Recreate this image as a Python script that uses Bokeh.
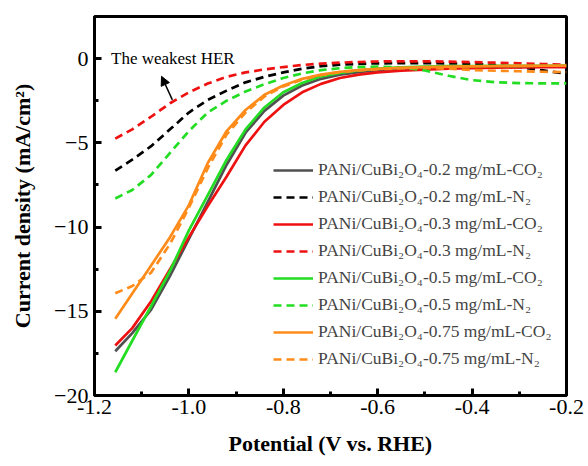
from bokeh.plotting import figure
from bokeh.models import (FixedTicker, PrintfTickFormatter, Legend, LegendItem,
                          Arrow, NormalHead, Label, Range1d)
from bokeh.embed import file_html
from bokeh.resources import INLINE

# ---- data ----
potential = [-1.156, -1.12, -1.08, -1.04, -1.00, -0.96, -0.92, -0.88, -0.84, -0.80,
             -0.76, -0.72, -0.68, -0.64, -0.60, -0.55, -0.50, -0.45, -0.40, -0.35,
             -0.30, -0.25, -0.20]

co2_02 = [-17.37, -16.3, -14.9, -12.9, -10.7, -8.5, -6.3, -4.4, -3.1, -2.2,
          -1.6, -1.2, -0.95, -0.8, -0.68, -0.6, -0.55, -0.5, -0.48, -0.47,
          -0.46, -0.455, -0.45]
n2_02 = [-6.65, -6.0, -5.2, -4.2, -3.2, -2.45, -1.9, -1.41, -1.08, -0.82,
         -0.6, -0.45, -0.36, -0.31, -0.28, -0.27, -0.27, -0.28, -0.31, -0.38,
         -0.5, -0.7, -0.9]
co2_03 = [-17.03, -16.0, -14.4, -12.5, -10.6, -8.75, -7.0, -5.15, -3.75, -2.75,
          -2.0, -1.5, -1.15, -0.95, -0.82, -0.72, -0.66, -0.6, -0.56, -0.54,
          -0.52, -0.51, -0.5]
n2_03 = [-4.75, -4.2, -3.45, -2.65, -2.0, -1.48, -1.08, -0.82, -0.64, -0.5,
         -0.38, -0.3, -0.24, -0.2, -0.17, -0.16, -0.16, -0.18, -0.21, -0.24,
         -0.28, -0.32, -0.36]
co2_05 = [-18.62, -16.75, -14.7, -12.6, -10.2, -8.1, -6.0, -4.2, -2.9, -2.0,
          -1.45, -1.05, -0.85, -0.7, -0.6, -0.52, -0.48, -0.45, -0.44, -0.435,
          -0.43, -0.425, -0.42]
n2_05 = [-8.3, -7.8, -6.9, -5.6, -4.3, -3.2, -2.5, -1.95, -1.52, -1.15,
         -0.88, -0.68, -0.57, -0.5, -0.48, -0.52, -0.7, -1.02, -1.28, -1.4,
         -1.45, -1.47, -1.47]
co2_075 = [-15.45, -13.95, -12.28, -10.6, -8.7, -6.2, -4.3, -3.05, -2.15, -1.6,
           -1.2, -0.95, -0.78, -0.68, -0.61, -0.55, -0.51, -0.48, -0.46, -0.44,
           -0.43, -0.425, -0.42]
n2_075 = [-13.93, -13.5, -12.7, -11.0, -8.85, -6.5, -4.5, -3.2, -2.25, -1.65,
          -1.25, -0.98, -0.8, -0.7, -0.62, -0.57, -0.55, -0.6, -0.68, -0.72,
          -0.75, -0.78, -0.8]

labels = [
    "PANi/CuBi\u2082O\u2084-0.2 mg/mL-CO\u2082",
    "PANi/CuBi\u2082O\u2084-0.2 mg/mL-N\u2082",
    "PANi/CuBi\u2082O\u2084-0.3 mg/mL-CO\u2082",
    "PANi/CuBi\u2082O\u2084-0.3 mg/mL-N\u2082",
    "PANi/CuBi\u2082O\u2084-0.5 mg/mL-CO\u2082",
    "PANi/CuBi\u2082O\u2084-0.5 mg/mL-N\u2082",
    "PANi/CuBi\u2082O\u2084-0.75 mg/mL-CO\u2082",
    "PANi/CuBi\u2082O\u2084-0.75 mg/mL-N\u2082",
]
series = [co2_02, n2_02, co2_03, n2_03, co2_05, n2_05, co2_075, n2_075]
colors = ["#505050", "#000000", "#ee1111", "#ee1111", "#22dd22", "#22dd22",
          "#ff8c1a", "#ff8c1a"]
dashes = ["solid", "8 5", "solid", "8 5", "solid", "8 5", "solid", "8 5"]

x_ticks = [-1.2, -1.0, -0.8, -0.6, -0.4, -0.2]
x_minor = [-1.1, -0.9, -0.7, -0.5, -0.3]
y_ticks = [-20, -15, -10, -5, 0]
y_minor = [-17.5, -12.5, -7.5, -2.5]

FONT = "Liberation Serif"

p = figure(width=588, height=466, output_backend="svg", toolbar_location=None,
           x_range=Range1d(-1.2, -0.2), y_range=Range1d(-20, 2.5),
           min_border_left=94, min_border_right=22, min_border_top=16,
           min_border_bottom=71)
p.grid.visible = False
p.outline_line_color = "black"
p.outline_line_width = 3
p.background_fill_color = "white"
p.border_fill_color = "white"

for ax in (p.xaxis[0], p.yaxis[0]):
    ax.axis_line_width = 3
    ax.axis_line_color = "black"
    ax.major_tick_in = 7
    ax.major_tick_out = 0
    ax.minor_tick_in = 4
    ax.minor_tick_out = 0
    ax.major_tick_line_width = 3
    ax.minor_tick_line_width = 3
    ax.major_label_text_font = FONT
    ax.major_label_text_font_size = "22px"
    ax.major_label_text_color = "black"
    ax.axis_label_text_font = FONT
    ax.axis_label_text_font_size = "22px"
    ax.axis_label_text_font_style = "bold"
    ax.axis_label_text_color = "black"

p.xaxis.ticker = FixedTicker(ticks=x_ticks, minor_ticks=x_minor)
p.xaxis.formatter = PrintfTickFormatter(format="%.1f")
p.yaxis.ticker = FixedTicker(ticks=y_ticks, minor_ticks=y_minor)
p.xaxis.axis_label = "Potential (V vs. RHE)"
p.yaxis.axis_label = "Current density (mA/cm\u00b2)"
p.xaxis.major_label_standoff = 4
p.yaxis.major_label_standoff = 6
p.xaxis.axis_label_standoff = 14
p.yaxis.axis_label_standoff = 16

items = []
for ys, c, d, lab in zip(series, colors, dashes, labels):
    r = p.line(potential, ys, line_color=c, line_width=2.7, line_dash=d)
    items.append(LegendItem(label=lab, renderers=[r]))

legend = Legend(items=items, location=(179, 26), glyph_width=40, glyph_height=20,
                label_height=20, spacing=6, padding=0, margin=0,
                label_standoff=5, label_text_font=FONT,
                label_text_font_size="17.5px", border_line_alpha=0,
                background_fill_alpha=0)
p.add_layout(legend)

p.add_layout(Label(x=-1.165, y=0.0, text="The weakest HER", text_font=FONT,
                   text_font_size="17px", text_baseline="middle",
                   text_color="black"))
p.add_layout(Arrow(end=NormalHead(size=9, fill_color="black", line_color="black"),
                   x_start=-1.035, y_start=-2.45, x_end=-1.058, y_end=-1.05,
                   line_width=1.5, line_color="black"))

open("out.html", "w").write(file_html(p, INLINE))
